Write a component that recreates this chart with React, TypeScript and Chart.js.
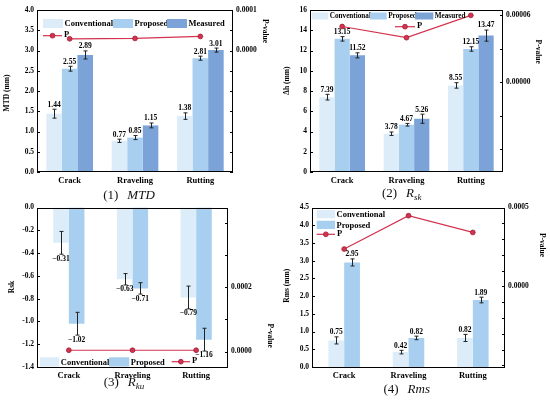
import React, { useEffect, useRef } from "react";
import { Chart, registerables } from "chart.js";

Chart.register(...registerables);

const FONT = '"Liberation Serif", "Times New Roman", serif';
const P_COLOR = "#d3334f";
const P_EDGE = "#a31b33";
const C_CONV = "#dcedf9";
const C_PROP = "#a8cff0";
const C_MEAS = "#7ba3d7";

const categories = ["Crack", "Rraveling", "Rutting"];

// (1) MTD
const mtdConventional = [1.44, 0.77, 1.38];
const mtdConventionalErr = [0.11, 0.04, 0.08];
const mtdProposed = [2.55, 0.85, 2.81];
const mtdProposedErr = [0.06, 0.05, 0.05];
const mtdMeasured = [2.89, 1.15, 3.01];
const mtdMeasuredErr = [0.1, 0.06, 0.05];
const mtdP = [0.0000289, 0.0000298, 0.0000347];
const mtdTicks = [0, 0.5, 1, 1.5, 2, 2.5, 3, 3.5, 4];
const mtdPTicks = [-0.0003, -0.00025, -0.0002, -0.00015, -0.0001, -0.00005, 0, 0.00005, 0.0001];
const mtdPLabels: [number, string][] = [[0, "0.0000"], [0.0001, "0.0001"]];

// (2) Rsk
const rskConventional = [7.39, 3.78, 8.55];
const rskConventionalErr = [0.28, 0.17, 0.27];
const rskProposed = [13.15, 4.67, 12.15];
const rskProposedErr = [0.22, 0.13, 0.22];
const rskMeasured = [11.52, 5.26, 13.47];
const rskMeasuredErr = [0.25, 0.45, 0.55];
const rskP = [0.00005, 0.00004, 0.00006];
const rskTicks = [0, 2, 4, 6, 8, 10, 12, 14, 16];
const rskPTicks = [-0.00006, -0.00003, 0, 0.00003, 0.00006];
const rskPLabels: [number, string][] = [[0, "0.00000"], [0.00006, "0.00006"]];

// (3) Rku
const rkuConventional = [-0.31, -0.63, -0.79];
const rkuConventionalErr = [0.1, 0.05, 0.1];
const rkuProposed = [-1.02, -0.71, -1.16];
const rkuProposedErr = [0.1, 0.05, 0.1];
const rkuP = [0.000004, 0.000004, 0.000004];
const rkuTicks = [-1.4, -1.2, -1.0, -0.8, -0.6, -0.4, -0.2, 0];
const rkuPTicks = [0, 0.0001, 0.0002, 0.0003, 0.0004];
const rkuPLabels: [number, string][] = [[0, "0.0000"], [0.0002, "0.0002"]];

// (4) Rms
const rmsConventional = [0.75, 0.42, 0.82];
const rmsConventionalErr = [0.1, 0.05, 0.1];
const rmsProposed = [2.95, 0.82, 1.89];
const rmsProposedErr = [0.1, 0.05, 0.08];
const rmsP = [0.000237, 0.000448, 0.000342];
const rmsTicks = [0, 0.5, 1, 1.5, 2, 2.5, 3, 3.5, 4, 4.5];
const rmsPTicks = [-0.0005, -0.0004, -0.0003, -0.0002, -0.0001, 0, 0.0001, 0.0002, 0.0003, 0.0004, 0.0005];
const rmsPLabels: [number, string][] = [[0, "0.0000"], [0.0005, "0.0005"]];

type BarSeries = { label: string; values: number[]; errors: number[]; color: string };
type LegendItem =
  | { kind: "box"; x: number; y: number; w: number; h: number; color: string; text: string; size: number }
  | { kind: "line"; x1: number; x2: number; y: number; text: string; size: number };

type PanelCfg = {
  x: number;
  y: number;
  area: { L: number; R: number; T: number; B: number };
  yMin: number;
  yMax: number;
  yTicks: number[];
  yDigits: number;
  pMin: number;
  pMax: number;
  pTicks: number[];
  pLabels: [number, string][];
  bars: BarSeries[];
  p: number[];
  catPct: number;
  yTitle: string;
  yTitlePos: [number, number];
  pTitlePos: [number, number];
  legend: LegendItem[];
  caption: { x: number; y: number; num: string; main: string; sub?: string };
};

const W = 275;
const H = 200;

const fmtVal = (v: number) => (v < 0 ? "\u2212" + Math.abs(v).toFixed(2) : v.toFixed(2));

function buildConfig(cfg: PanelCfg): any {
  const tickFont = { family: FONT, size: 7.5, weight: "bold" as const };
  const decor = {
    id: "decor",
    afterDraw(chart: any) {
      const ctx: CanvasRenderingContext2D = chart.ctx;
      const { left, right, top, bottom } = chart.chartArea;
      const ys = chart.scales.y;
      const ps = chart.scales.y1;
      ctx.save();
      ctx.strokeStyle = "#000";
      ctx.lineWidth = 1;
      ctx.strokeRect(Math.round(left) + 0.5, Math.round(top) + 0.5, Math.round(right - left) - 1, Math.round(bottom - top) - 1);
      ctx.beginPath();
      cfg.yTicks.forEach((v) => {
        const yy = Math.round(ys.getPixelForValue(v)) + 0.5;
        ctx.moveTo(left, yy);
        ctx.lineTo(left + 3, yy);
      });
      cfg.pTicks.forEach((v) => {
        const yy = Math.round(ps.getPixelForValue(v)) + 0.5;
        ctx.moveTo(right, yy);
        ctx.lineTo(right - 3, yy);
      });
      ctx.stroke();

      // error bars + value labels
      ctx.fillStyle = "#000";
      ctx.font = `bold 7.5px ${FONT}`;
      ctx.textAlign = "center";
      ctx.textBaseline = "middle";
      cfg.bars.forEach((b, k) => {
        const meta = chart.getDatasetMeta(k + 1);
        meta.data.forEach((el: any, j: number) => {
          const v = b.values[j];
          const e = b.errors[j];
          const xx = Math.round(el.x) + 0.5;
          const yA = ys.getPixelForValue(v + e);
          const yB = ys.getPixelForValue(v - e);
          ctx.strokeStyle = "#222";
          ctx.lineWidth = 1;
          ctx.beginPath();
          ctx.moveTo(xx, yA);
          ctx.lineTo(xx, yB);
          ctx.moveTo(xx - 2, yA);
          ctx.lineTo(xx + 2, yA);
          ctx.moveTo(xx - 2, yB);
          ctx.lineTo(xx + 2, yB);
          ctx.stroke();
          const ly = v >= 0 ? Math.min(yA, yB) - 4.5 : Math.max(yA, yB) + 4.5;
          ctx.fillText(fmtVal(v), el.x, ly);
        });
      });

      // axis titles
      ctx.font = `bold 7.5px ${FONT}`;
      ctx.save();
      ctx.translate(cfg.yTitlePos[0], cfg.yTitlePos[1]);
      ctx.rotate(-Math.PI / 2);
      ctx.fillText(cfg.yTitle, 0, 0);
      ctx.restore();
      ctx.save();
      ctx.translate(cfg.pTitlePos[0], cfg.pTitlePos[1]);
      ctx.rotate(Math.PI / 2);
      ctx.fillText("P-value", 0, 0);
      ctx.restore();

      // legend
      ctx.textAlign = "left";
      cfg.legend.forEach((it) => {
        ctx.font = `bold ${it.size}px ${FONT}`;
        ctx.fillStyle = "#000";
        if (it.kind === "box") {
          ctx.fillStyle = it.color;
          ctx.fillRect(it.x, it.y, it.w, it.h);
          ctx.fillStyle = "#000";
          ctx.fillText(it.text, it.x + it.w + 1.5, it.y + it.h / 2 + 0.5);
        } else {
          ctx.strokeStyle = P_COLOR;
          ctx.lineWidth = 1.2;
          ctx.beginPath();
          ctx.moveTo(it.x1, it.y);
          ctx.lineTo(it.x2, it.y);
          ctx.stroke();
          ctx.beginPath();
          ctx.arc((it.x1 + it.x2) / 2, it.y, 2.4, 0, Math.PI * 2);
          ctx.fillStyle = P_COLOR;
          ctx.fill();
          ctx.strokeStyle = P_EDGE;
          ctx.lineWidth = 0.8;
          ctx.stroke();
          ctx.fillStyle = "#000";
          ctx.fillText(it.text, it.x2 + 2, it.y - 1);
        }
      });
      ctx.restore();
    },
  };

  const datasets: any[] = [
    {
      type: "line",
      label: "P",
      data: cfg.p,
      yAxisID: "y1",
      borderColor: P_COLOR,
      backgroundColor: P_COLOR,
      borderWidth: 1.2,
      pointRadius: 2.4,
      pointBackgroundColor: P_COLOR,
      pointBorderColor: P_EDGE,
      pointBorderWidth: 0.8,
      tension: 0,
      order: 0,
    },
    ...cfg.bars.map((b) => ({
      type: "bar",
      label: b.label,
      data: b.values,
      backgroundColor: b.color,
      borderWidth: 0,
      yAxisID: "y",
      order: 1,
      categoryPercentage: cfg.catPct,
      barPercentage: 1,
    })),
  ];

  const findLabel = (v: number) => {
    const f = cfg.pLabels.find(([k]) => Math.abs(k - v) < 1e-12);
    return f ? f[1] : "";
  };

  return {
    type: "bar",
    data: { labels: categories, datasets },
    options: {
      animation: false,
      responsive: true,
      maintainAspectRatio: false,
      events: [],
      layout: { padding: { top: cfg.area.T, left: 0, right: 0, bottom: 0 } },
      plugins: { legend: { display: false }, tooltip: { enabled: false }, title: { display: false } },
      scales: {
        x: {
          type: "category",
          offset: true,
          grid: { display: false, drawTicks: false },
          border: { display: false },
          ticks: { font: { family: FONT, size: 8.5, weight: "bold" }, color: "#000", padding: 4, autoSkip: false, maxRotation: 0 },
          afterFit: (s: any) => {
            s.height = H - cfg.area.B;
          },
        },
        y: {
          type: "linear",
          position: "left",
          min: cfg.yMin,
          max: cfg.yMax,
          grid: { display: false, drawTicks: false },
          border: { display: false },
          afterBuildTicks: (s: any) => {
            s.ticks = cfg.yTicks.map((v) => ({ value: v }));
          },
          ticks: {
            font: tickFont,
            color: "#000",
            padding: 3,
            autoSkip: false,
            callback: (v: any) => Number(v).toFixed(cfg.yDigits),
          },
          afterFit: (s: any) => {
            s.width = cfg.area.L;
          },
        },
        y1: {
          type: "linear",
          position: "right",
          min: cfg.pMin,
          max: cfg.pMax,
          grid: { display: false, drawTicks: false },
          border: { display: false },
          afterBuildTicks: (s: any) => {
            s.ticks = cfg.pTicks.map((v) => ({ value: v }));
          },
          ticks: {
            font: tickFont,
            color: "#000",
            padding: 3,
            autoSkip: false,
            callback: (v: any) => findLabel(Number(v)),
          },
          afterFit: (s: any) => {
            s.width = W - cfg.area.R;
          },
        },
      },
    },
    plugins: [decor],
  };
}

const panels: PanelCfg[] = [
  {
    x: 0,
    y: 0,
    area: { L: 37, R: 233, T: 10, B: 172 },
    yMin: 0,
    yMax: 4,
    yTicks: mtdTicks,
    yDigits: 1,
    pMin: -0.0003,
    pMax: 0.0001,
    pTicks: mtdPTicks,
    pLabels: mtdPLabels,
    bars: [
      { label: "Conventional", values: mtdConventional, errors: mtdConventionalErr, color: C_CONV },
      { label: "Proposed", values: mtdProposed, errors: mtdProposedErr, color: C_PROP },
      { label: "Measured", values: mtdMeasured, errors: mtdMeasuredErr, color: C_MEAS },
    ],
    p: mtdP,
    catPct: 0.715,
    yTitle: "MTD (mm)",
    yTitlePos: [7, 93],
    pTitlePos: [265, 31],
    legend: [
      { kind: "box", x: 43, y: 19, w: 20, h: 9, color: C_CONV, text: "Conventional", size: 8.5 },
      { kind: "box", x: 113, y: 19, w: 20, h: 9, color: C_PROP, text: "Proposed", size: 8.5 },
      { kind: "box", x: 167, y: 19, w: 20, h: 9, color: C_MEAS, text: "Measured", size: 8.5 },
      { kind: "line", x1: 43, x2: 62, y: 35.7, text: "P", size: 8.5 },
    ],
    caption: { x: 129, y: 193.5, num: "(1)", main: "MTD" },
  },
  {
    x: 275,
    y: 0,
    area: { L: 35, R: 228, T: 10, B: 172 },
    yMin: 0,
    yMax: 16,
    yTicks: rskTicks,
    yDigits: 0,
    pMin: -0.0000803,
    pMax: 0.0000648,
    pTicks: rskPTicks,
    pLabels: rskPLabels,
    bars: [
      { label: "Conventional", values: rskConventional, errors: rskConventionalErr, color: C_CONV },
      { label: "Proposed", values: rskProposed, errors: rskProposedErr, color: C_PROP },
      { label: "Measured", values: rskMeasured, errors: rskMeasuredErr, color: C_MEAS },
    ],
    p: rskP,
    catPct: 0.71,
    yTitle: "\u0394h (mm)",
    yTitlePos: [11.7, 80.7],
    pTitlePos: [263.3, 51.7],
    legend: [
      { kind: "box", x: 36.7, y: 12.5, w: 16.6, h: 7, color: C_CONV, text: "Conventional", size: 7.2 },
      { kind: "box", x: 95, y: 12.5, w: 16.7, h: 7, color: C_PROP, text: "Proposed", size: 7.2 },
      { kind: "box", x: 140, y: 12.5, w: 18.3, h: 7, color: C_MEAS, text: "Measured", size: 7.2 },
      { kind: "line", x1: 120, x2: 140, y: 26.7, text: "P", size: 8.5 },
    ],
    caption: { x: 401.7, y: 194, num: "(2)", main: "R", sub: "sk" },
  },
  {
    x: 0,
    y: 200,
    area: { L: 37, R: 228, T: 6, B: 167 },
    yMin: -1.4,
    yMax: 0,
    yTicks: rkuTicks,
    yDigits: 1,
    pMin: -0.000048,
    pMax: 0.000447,
    pTicks: rkuPTicks,
    pLabels: rkuPLabels,
    bars: [
      { label: "Conventional", values: rkuConventional, errors: rkuConventionalErr, color: C_CONV },
      { label: "Proposed", values: rkuProposed, errors: rkuProposedErr, color: C_PROP },
    ],
    p: rkuP,
    catPct: 0.49,
    yTitle: "Rsk",
    yTitlePos: [12, 87],
    pTitlePos: [270, 135.7],
    legend: [
      { kind: "box", x: 40, y: 157.3, w: 19.3, h: 9.3, color: C_CONV, text: "Conventional", size: 8.5 },
      { kind: "box", x: 109, y: 157.3, w: 20.3, h: 9.3, color: C_PROP, text: "Proposed", size: 8.5 },
      { kind: "line", x1: 171.7, x2: 190, y: 161.7, text: "P", size: 8.5 },
    ],
    caption: { x: 124, y: 382.7, num: "(3)", main: "R", sub: "ku" },
  },
  {
    x: 275,
    y: 200,
    area: { L: 37, R: 230, T: 6, B: 167 },
    yMin: 0,
    yMax: 4.5,
    yTicks: rmsTicks,
    yDigits: 1,
    pMin: -0.00051,
    pMax: 0.0005,
    pTicks: rmsPTicks,
    pLabels: rmsPLabels,
    bars: [
      { label: "Conventional", values: rmsConventional, errors: rmsConventionalErr, color: C_CONV },
      { label: "Proposed", values: rmsProposed, errors: rmsProposedErr, color: C_PROP },
    ],
    p: rmsP,
    catPct: 0.49,
    yTitle: "Rms (mm)",
    yTitlePos: [11.7, 85.7],
    pTitlePos: [266.7, 45],
    legend: [
      { kind: "box", x: 41.7, y: 10, w: 18.3, h: 8.3, color: C_CONV, text: "Conventional", size: 8.5 },
      { kind: "box", x: 41.7, y: 20.7, w: 18.3, h: 8.3, color: C_PROP, text: "Proposed", size: 8.5 },
      { kind: "line", x1: 41.7, x2: 60, y: 34.3, text: "P", size: 8.5 },
    ],
    caption: { x: 406.7, y: 387.7, num: "(4)", main: "Rms" },
  },
];

function Panel({ cfg }: { cfg: PanelCfg }) {
  const ref = useRef<HTMLCanvasElement>(null);
  useEffect(() => {
    const chart = new Chart(ref.current as HTMLCanvasElement, buildConfig(cfg));
    return () => chart.destroy();
  }, [cfg]);
  return (
    <div style={{ position: "absolute", left: cfg.x, top: cfg.y, width: W, height: H }}>
      <canvas ref={ref} />
    </div>
  );
}

function Caption({ c }: { c: PanelCfg["caption"] }) {
  return (
    <div
      style={{
        position: "absolute",
        left: c.x,
        top: c.y,
        transform: "translate(-50%, -50%)",
        whiteSpace: "nowrap",
        fontFamily: FONT,
        fontSize: 13,
        lineHeight: 1,
        color: "#111",
      }}
    >
      <span>{c.num}</span>
      <span style={{ marginLeft: 9, fontStyle: "italic" }}>
        {c.main}
        {c.sub ? <sub style={{ fontSize: 9, verticalAlign: "-3px" }}>{c.sub}</sub> : null}
      </span>
    </div>
  );
}

export default function App() {
  return (
    <div style={{ position: "fixed", left: 0, top: 0, width: 550, height: 401, background: "#fff", overflow: "hidden" }}>
      {panels.map((p, i) => (
        <Panel key={i} cfg={p} />
      ))}
      {panels.map((p, i) => (
        <Caption key={"c" + i} c={p.caption} />
      ))}
    </div>
  );
}
